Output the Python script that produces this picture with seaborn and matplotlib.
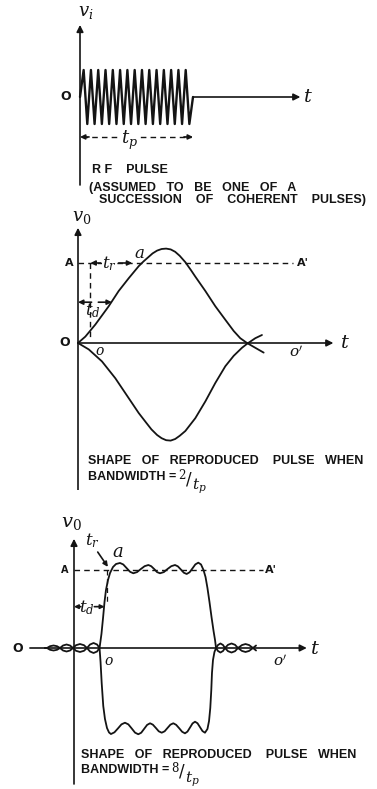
import numpy as np
import matplotlib
matplotlib.use('Agg')
import matplotlib.pyplot as plt
import seaborn as sns

sns.set_theme(style='white')
plt.rcParams['font.family'] = ['DejaVu Sans']
plt.rcParams['mathtext.fontset'] = 'dejavuserif'

# ---- data (t in units of tp, v in units of A) ----
# RF pulse: peaks / troughs of the carrier inside the burst
rf_v = [0, 1, -1, 1, -1, 1, -1, 1, -1, 1, -1, 1, -1, 1, -1, 1,
        -1, 1, -1, 1, -1, 1, -1, 1, -1, 1, -1, 1, -1, 1, -1, 0]
rf_t = np.linspace(0, 1, len(rf_v))

# reproduced pulse, bandwidth = 2/tp
bw2_up_t = [0, .065, .153, .272, .36, .449, .537, .58, .62, .66, .70, .74, .78, .82, .86,
            .90, .95, 1.0, 1.038, 1.127, 1.215, 1.304, 1.378, 1.436, 1.496, 1.569, 1.643]
bw2_up_v = [0, .08, .23, .46, .65, .81, .96, 1.02, 1.07, 1.12, 1.155, 1.175, 1.18, 1.17, 1.14,
            1.09, 1.01, .91, .83, .65, .46, .29, .15, .06, 0, -.06, -.12]
bw2_lo_t = [0, .095, .212, .33, .449, .537, .60, .65, .70, .74, .78, .82, .86, .90, .95,
            1.038, 1.127, 1.215, 1.304, 1.378, 1.451, 1.496, 1.569, 1.628]
bw2_lo_v = [0, -.08, -.23, -.44, -.69, -.875, -.99, -1.08, -1.15, -1.19, -1.215, -1.22, -1.20,
            -1.16, -1.10, -.94, -.73, -.50, -.29, -.16, -.06, -.01, .06, .10]

# reproduced pulse, bandwidth = 8/tp
bw8_up_t = [-.257, -.239, -.212, -.181, -.150, -.124, -.097, -.066, -.035, -.009, .018, .053,
            .088, .115, .142, .173, .204, .226,
            .243, .257, .270, .283, .301, .319, .345, .372, .407,
            .436, .466, .496, .525, .558, .591, .625, .658, .683, .710, .735, .761, .795, .827,
            .861, .894, .919, .946, .972, .997, 1.023, 1.049, 1.074, 1.100,
            1.124, 1.146, 1.164, 1.181, 1.199, 1.217, 1.235, 1.248, 1.257,
            1.274, 1.296, 1.319, 1.336, 1.363, 1.394, 1.425, 1.451, 1.487, 1.518, 1.549, 1.584, 1.611]
bw8_up_v = [0, 0, .023, .032, .023, 0, -.032, -.045, -.032, 0, .036, .051,
            .036, 0, -.045, -.064, -.045, 0,
            .18, .385, .59, .744, .872, .962, 1.038, 1.077, 1.09,
            1.071, 1.024, .977, .958, .973, 1.012, 1.049, 1.064, 1.049, 1.012, .973, .958, .973, 1.012,
            1.049, 1.064, 1.047, 1.006, .965, .949, .971, 1.022, 1.072, 1.094,
            1.071, 1.0, .910, .769, .590, .397, .218, .103, 0,
            -.038, -.058, -.038, 0, .041, .058, .041, 0, -.038, -.051, -.038, 0, .032]
bw8_lo_t = [-.257, -.239, -.212, -.181, -.150, -.124, -.097, -.066, -.035, -.009, .018, .053,
            .088, .115, .142, .173, .204, .226,
            .235, .245, .259, .274, .292, .310, .327,
            .358, .389, .420, .451, .481, .511, .540, .569, .595, .621, .647, .673, .698, .725,
            .750, .776, .802, .827, .853, .879, .904, .931, .957, .982, 1.004, 1.027, 1.049,
            1.071, 1.093, 1.115, 1.137, 1.159,
            1.181, 1.195, 1.206, 1.215, 1.221, 1.230, 1.243, 1.257,
            1.274, 1.296, 1.319, 1.336, 1.363, 1.394, 1.425, 1.451, 1.487, 1.518, 1.549, 1.584, 1.611]
bw8_lo_v = [0, 0, -.023, -.032, -.023, 0, .032, .045, .032, 0, -.036, -.051,
            -.036, 0, .045, .064, .045, 0,
            -.18, -.449, -.744, -.910, -1.026, -1.083, -1.103,
            -1.081, -1.031, -.979, -.958, -.979, -1.032, -1.085, -1.106, -1.086, -1.036, -.986, -.965,
            -.983, -1.026, -1.068, -1.086, -1.068, -1.026, -.983, -.965, -.985, -1.029, -1.074, -1.094,
            -1.072, -1.019, -.967, -.945, -.965, -1.015, -1.065, -1.086,
            -1.038, -.936, -.769, -.538, -.321, -.154, -.051, 0,
            .038, .058, .038, 0, -.041, -.058, -.041, 0, .038, .051, .038, 0, -.032]

INK = '#141414'
CAPS_FONT = ['Liberation Sans', 'DejaVu Sans']
W, H = 377, 789
fig = plt.figure(figsize=(W / 100, H / 100), dpi=100)
renderer = fig.canvas.get_renderer()


def panel(top, bottom, ox, oy, sx, sy):
    # axes spanning a horizontal band of the figure, origin of the diagram at pixel (ox, oy)
    ax = fig.add_axes([0, 1 - bottom / H, 1, (bottom - top) / H])
    ax.set_xlim(-ox / sx, (W - ox) / sx)
    ax.set_ylim((oy - bottom) / sy, (oy - top) / sy)
    ax.axis('off')
    return ax


def arrow(ax, x0, y0, x1, y1, lw=1.2, ms=10):
    ax.annotate('', xy=(x1, y1), xytext=(x0, y0),
                arrowprops=dict(arrowstyle='-|>', lw=lw, color=INK, shrinkA=0, shrinkB=0,
                                mutation_scale=ms))


def curve(ax, t, v, lw=1.3):
    sns.lineplot(x=t, y=v, ax=ax, sort=False, estimator=None, color=INK, lw=lw)


def dash(ax, x, y, lw=1.0):
    ax.plot(x, y, color=INK, lw=lw, ls=(0, (4, 3)))


def lab(ax, x, y, s, size=12, ha='center', **kw):
    ax.text(x, y, s, fontsize=size, color=INK, ha=ha, va='center', **kw)


def caps(px, py, s, size=9):
    return fig.text(px / W, 1 - py / H, s, fontsize=size, fontweight='bold', color=INK,
                    family=CAPS_FONT, ha='left', va='center')


def bandwidth(px, py, num):
    # "BANDWIDTH = n/tp" with a hand-set slanted fraction after the caps text
    t = caps(px, py, 'BANDWIDTH =')
    x = t.get_window_extent(renderer).x1 + 2
    fig.text(x / W, 1 - (py - 2) / H, r'$%s$' % num, fontsize=8.5, color=INK, ha='left',
             va='center')
    fig.text((x + 8) / W, 1 - (py + 2) / H, '/', fontsize=12, color=INK, ha='left', va='center')
    fig.text((x + 14) / W, 1 - (py + 9) / H, r'$t_p$', fontsize=11, color=INK, ha='left',
             va='center')


# ---- panel 1: RF pulse ----
ax1 = panel(0, 205, 80, 97, 113, 27)
ax1.plot([0, 0], [-3.26, 0], color=INK, lw=1.2)
arrow(ax1, 0, 0, 0, 2.67)
curve(ax1, rf_t, rf_v, lw=1.7)
arrow(ax1, 1, 0, 1.95, 0)
dash(ax1, [0.02, 0.98], [-1.48, -1.48])
arrow(ax1, 0.08, -1.48, 0.0, -1.48, ms=7)
arrow(ax1, 0.92, -1.48, 1.0, -1.48, ms=7)
ax1.text(0.44, -1.6, r'$t_p$', fontsize=13, color=INK, ha='center', va='center',
         bbox=dict(fc='white', ec='none', pad=0.5))
lab(ax1, 2.02, 0, r'$t$', size=14)
lab(ax1, -0.13, 0, 'O', size=9, fontweight='bold')
lab(ax1, 0.05, 3.15, r'$v_i$', size=13)
caps(92, 170, 'R F    PULSE')
caps(89, 188, '(ASSUMED   TO   BE   ONE   OF   A')
caps(99, 200, 'SUCCESSION    OF    COHERENT    PULSES)')

# ---- panel 2: bandwidth = 2/tp ----
ax2 = panel(205, 490, 78, 343, 113, 80)
ax2.plot([0, 0], [-1.84, 0], color=INK, lw=1.2)
arrow(ax2, 0, 0, 0, 1.44)
arrow(ax2, 0, 0, 2.26, 0)
curve(ax2, bw2_up_t, bw2_up_v)
curve(ax2, bw2_lo_t, bw2_lo_v)
dash(ax2, [0, 1.90], [1, 1])
dash(ax2, [0.11, 0.11], [1, 0.05])
arrow(ax2, 0.2, 1, 0.11, 1, ms=7)
arrow(ax2, 0.36, 1, 0.48, 1, ms=7)
ax2.text(0.28, 0.99, r'$t_r$', fontsize=12, color=INK, ha='center', va='center',
         bbox=dict(fc='white', ec='none', pad=0.3))
lab(ax2, 0.54, 1.12, r'$a$', size=12)
arrow(ax2, 0.12, 0.51, 0, 0.51, ms=7)
arrow(ax2, 0.18, 0.51, 0.30, 0.51, ms=7)
lab(ax2, 0.13, 0.40, r'$t_d$', size=12)
lab(ax2, -0.04, 1, 'A', size=8, fontweight='bold', ha='right')
lab(ax2, 1.94, 1.0, "A'", size=8, fontweight='bold', ha='left')
lab(ax2, -0.12, 0, 'O', size=9, fontweight='bold')
lab(ax2, 0.19, -0.10, r'$o$', size=10)
lab(ax2, 1.93, -0.11, r"$o'$", size=11)
lab(ax2, 2.36, 0, r'$t$', size=14)
lab(ax2, 0.03, 1.57, r'$v_0$', size=13)
caps(88, 461, 'SHAPE   OF   REPRODUCED    PULSE   WHEN')
bandwidth(88, 477, '2')

# ---- panel 3: bandwidth = 8/tp ----
ax3 = panel(490, 789, 74, 648, 113, 78)
ax3.plot([0, 0], [-1.74, 0], color=INK, lw=1.2)
arrow(ax3, 0, 0, 0, 1.40)
arrow(ax3, -0.39, 0, 2.06, 0)
curve(ax3, bw8_up_t, bw8_up_v)
curve(ax3, bw8_lo_t, bw8_lo_v)
dash(ax3, [0, 1.67], [1, 1])
dash(ax3, [0.29, 0.29], [1, 0.58], lw=0.9)
arrow(ax3, 0.06, 0.53, 0, 0.53, ms=6)
arrow(ax3, 0.18, 0.53, 0.27, 0.53, ms=6)
lab(ax3, 0.11, 0.52, r'$t_d$', size=12)
arrow(ax3, 0.21, 1.23, 0.30, 1.04, ms=7)
lab(ax3, 0.16, 1.37, r'$t_r$', size=12)
lab(ax3, 0.39, 1.23, r'$a$', size=13)
lab(ax3, -0.05, 1, 'A', size=7, fontweight='bold', ha='right')
lab(ax3, 1.69, 1.0, "A'", size=8, fontweight='bold', ha='left')
lab(ax3, -0.50, 0, 'O', size=9, fontweight='bold')
lab(ax3, 0.31, -0.17, r'$o$', size=10)
lab(ax3, 1.83, -0.17, r"$o'$", size=11)
lab(ax3, 2.13, 0, r'$t$', size=14)
lab(ax3, -0.02, 1.61, r'$v_0$', size=14)
caps(81, 755, 'SHAPE   OF   REPRODUCED    PULSE   WHEN')
bandwidth(81, 770, '8')

fig.savefig('out.png', dpi=100, facecolor='white')
